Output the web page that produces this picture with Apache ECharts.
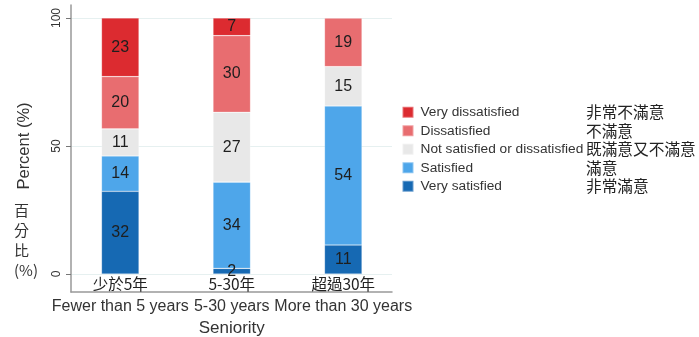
<!DOCTYPE html>
<html>
<head>
<meta charset="utf-8">
<script src="https://cdn.jsdelivr.net/npm/echarts@6/dist/echarts.min.js"></script>
<style>
html,body{margin:0;padding:0;background:#fff;}
#chart{width:699px;height:337px;}
</style>
</head>
<body>
<div id="chart"></div>
<script>
// ---- data ----
const categoriesZh = ['少於5年', '5-30年', '超過30年'];
const categoriesEn = ['Fewer than 5 years', '5-30 years', 'More than 30 years'];
const seriesNamesEn = ['Very satisfied', 'Satisfied', 'Not satisfied or dissatisfied', 'Dissatisfied', 'Very dissatisfied'];
const seriesNamesZh = ['非常滿意', '滿意', '既滿意又不滿意', '不滿意', '非常不滿意'];
const verySatisfied = [32.3, 2.2, 11.3];
const satisfied = [13.8, 33.7, 54.3];
const neutral = [10.6, 27.3, 15.4];
const dissatisfied = [20.4, 29.9, 19.0];
const veryDissatisfied = [22.9, 6.9, 0];
const yTicks = [0, 50, 100];
const colors = ['#1669b3', '#4ea6ea', '#e8e8e8', '#e86d70', '#dc2b30'];

const values = [verySatisfied, satisfied, neutral, dissatisfied, veryDissatisfied];
const FONT = '"Liberation Sans", Arial, sans-serif';
const CJK = '"Noto Sans CJK TC", "Noto Sans CJK SC", sans-serif';

const chart = echarts.init(document.getElementById('chart'));

const series = seriesNamesEn.map((name, i) => ({
  name: name,
  type: 'bar',
  stack: 'total',
  xAxisIndex: 0,
  yAxisIndex: 0,
  barWidth: 37.5,
  data: values[i],
  itemStyle: { color: colors[i], borderColor: 'rgba(255,255,255,0.35)', borderWidth: 0.6 },
  label: {
    show: true,
    position: 'inside',
    fontFamily: FONT,
    fontSize: 16,
    color: '#1e1e1e',
    formatter: p => (p.value > 0 ? String(Math.round(p.value)) : '')
  },
  emphasis: { disabled: true }
}));

const legendNames = seriesNamesEn.slice().reverse();
const legendBase = {
  orient: 'vertical',
  top: 103,
  padding: 0,
  itemGap: 0,
  selectedMode: false,
  data: legendNames
};

chart.setOption({
  animation: false,
  grid: [
    { left: 64.5, width: 334.5, top: 18, height: 256, outerBoundsMode: 'none', containLabel: false },
    { left: 71, width: 321, top: 18, height: 256, outerBoundsMode: 'none', containLabel: false },
    { left: 71, width: 321, top: 5, height: 287, outerBoundsMode: 'none', containLabel: false }
  ],
  xAxis: [
    {
      gridIndex: 0,
      type: 'category',
      data: categoriesEn.map((c, i) => categoriesZh[i] + '\n' + c),
      axisLine: { show: false },
      axisTick: { show: false },
      axisLabel: {
        margin: 1,
        interval: 0,
        formatter: (v, i) => '{a|' + categoriesZh[i] + '}\n{b|' + categoriesEn[i] + '}',
        rich: {
          a: { fontFamily: CJK, fontSize: 15.5, color: '#222', lineHeight: 18, align: 'center' },
          b: { fontFamily: FONT, fontSize: 16, color: '#333', lineHeight: 28, align: 'center' }
        }
      },
      name: 'Seniority',
      nameLocation: 'middle',
      nameGap: 44,
      nameTextStyle: { fontFamily: FONT, fontSize: 17, color: '#333' }
    },
    { gridIndex: 1, type: 'value', show: false },
    {
      gridIndex: 2, type: 'value', min: 0, max: 1,
      axisLine: { show: true, onZero: false, lineStyle: { color: '#999', width: 1.5 } },
      axisTick: { show: false }, axisLabel: { show: false }, splitLine: { show: false }
    }
  ],
  yAxis: [
    { gridIndex: 0, type: 'value', min: 0, max: 100, show: false },
    {
      gridIndex: 1, type: 'value', min: yTicks[0], max: yTicks[yTicks.length - 1], interval: 50,
      axisLine: { show: false },
      axisTick: { show: true, length: 5, lineStyle: { color: '#777' } },
      axisLabel: { rotate: 90, margin: 8, fontFamily: FONT, fontSize: 12, color: '#333' },
      splitLine: { show: true, lineStyle: { color: '#e6f0f0', width: 1 } },
      name: 'Percent (%)',
      nameLocation: 'middle',
      nameRotate: 90,
      nameGap: 38,
      nameTextStyle: { fontFamily: FONT, fontSize: 16.5, color: '#333' }
    },
    {
      gridIndex: 2, type: 'value', min: 0, max: 1,
      axisLine: { show: true, onZero: false, lineStyle: { color: '#999', width: 1.5 } },
      axisTick: { show: false }, axisLabel: { show: false }, splitLine: { show: false }
    }
  ],
  legend: [
    Object.assign({}, legendBase, {
      left: 401.5,
      itemWidth: 11,
      itemHeight: 11,
      icon: 'rect',
      textStyle: { fontFamily: FONT, fontSize: 13.7, color: '#333', lineHeight: 18.5, padding: [0, 0, 0, 2] }
    }),
    Object.assign({}, legendBase, {
      left: 581,
      itemWidth: 0,
      itemHeight: 11,
      icon: 'none',
      formatter: name => seriesNamesZh[seriesNamesEn.indexOf(name)],
      textStyle: { fontFamily: CJK, fontSize: 15.7, color: '#222', lineHeight: 18.5 }
    })
  ],
  graphic: [
    {
      type: 'text',
      left: 14,
      top: 200,
      style: {
        text: '百\n分\n比\n(%)',
        fontFamily: CJK,
        fontSize: 15,
        lineHeight: 20,
        fill: '#333',
        align: 'center'
      }
    }
  ],
  series: series
});
</script>
</body>
</html>
